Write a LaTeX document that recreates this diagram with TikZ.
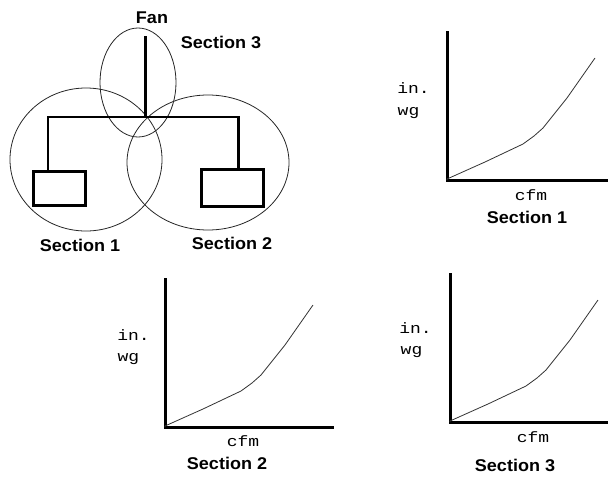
\documentclass[tikz,border=0pt]{standalone}
\usepackage{fontspec}
\setmainfont{Liberation Sans}
\newfontfamily\monofam{Liberation Mono}
\usetikzlibrary{shapes.geometric}
\newcommand\widetitle[1]{\scalebox{1.06}[1]{#1}}
\newcommand\widemono[1]{\scalebox{1.2}[1]{#1}}
\tikzset{
  zone/.style={draw=black!85,line width=0.8pt,ellipse,inner sep=0pt,fill=none},
  duct/.style={line width=2.8pt,line cap=rect},
  box/.style={draw,line width=3pt,rectangle,inner sep=0pt,fill=none},
  axisline/.style={line width=3pt,line cap=rect},
  syscurve/.style={line width=0.8pt,draw=black!80,line join=round},
  title/.style={font=\fontsize{17}{19}\bfseries\selectfont,inner sep=0pt},
  mono/.style={font=\fontsize{15}{17}\monofam\selectfont,inner sep=0pt},
  chart/.pic={
    \coordinate (-o) at (0,0);
    \coordinate (-top) at (0,-148);
    \coordinate (-right) at (#1,0);
    \draw[axisline] (-top) -- (-o) -- (-right);
    \draw[syscurve] (-o) -- (0,-1) -- (38,-18) -- (76,-36) -- (87,-44) -- (96,-52) -- (108,-67) -- (120,-82) -- (134,-102) -- (148,-122);
  }
}
\begin{document}
\begin{tikzpicture}[x=1pt,y=-1pt]
\useasboundingbox (0,0) rectangle (608,477);
% zones
\node[zone,minimum width=76pt,minimum height=109pt] (z3) at (138,82.5) {};
\node[zone,minimum width=152pt,minimum height=143pt] (z1) at (86,159.5) {};
\node[zone,minimum width=162pt,minimum height=135pt] (z2) at (208,162.5) {};
% boxes
\node[box,minimum width=52pt,minimum height=34pt] (b1) at (59,188.5) {};
\node[box,minimum width=62pt,minimum height=37pt] (b2) at (232.5,188) {};
% duct
\coordinate (fan) at (145.5,37);
\coordinate (jct) at (145.5,117);
\coordinate (lc) at (48,117);
\coordinate (rc) at (238.5,117);
\draw[duct] (fan) -- (jct);
\draw[duct] (b1.north -| lc) -- (lc) -- (rc) -- (b2.north -| rc);
% labels
\node[title] (tfan) at (152,18) {\widetitle{Fan}};
\node[title] (ts3) at (221,42) {\widetitle{Section 3}};
\node[title] (ts1) at (80,245) {\widetitle{Section 1}};
\node[title] (ts2) at (232,243) {\widetitle{Section 2}};
% charts
\pic (c1) at (447,180) {chart=161};
\pic (c2) at (165,427) {chart=167};
\pic (c3) at (450,422) {chart=158};
\node[mono] (i1) at (413.5,88) {\widemono{in.}};
\node[mono] (w1) at (408.5,113) {\widemono{wg}};
\node[mono] (f1) at (531,195) {\widemono{cfm}};
\node[title] (s1) at (527,217) {\widetitle{Section 1}};
\node[mono] (i2) at (133.5,335) {\widemono{in.}};
\node[mono] (w2) at (128.5,359) {\widemono{wg}};
\node[mono] (f2) at (243,441) {\widemono{cfm}};
\node[title] (s2) at (227,463) {\widetitle{Section 2}};
\node[mono] (i3) at (415.5,328) {\widemono{in.}};
\node[mono] (w3) at (411.5,352) {\widemono{wg}};
\node[mono] (f3) at (533,437) {\widemono{cfm}};
\node[title] (s3) at (515,465) {\widetitle{Section 3}};
\end{tikzpicture}
\end{document}
